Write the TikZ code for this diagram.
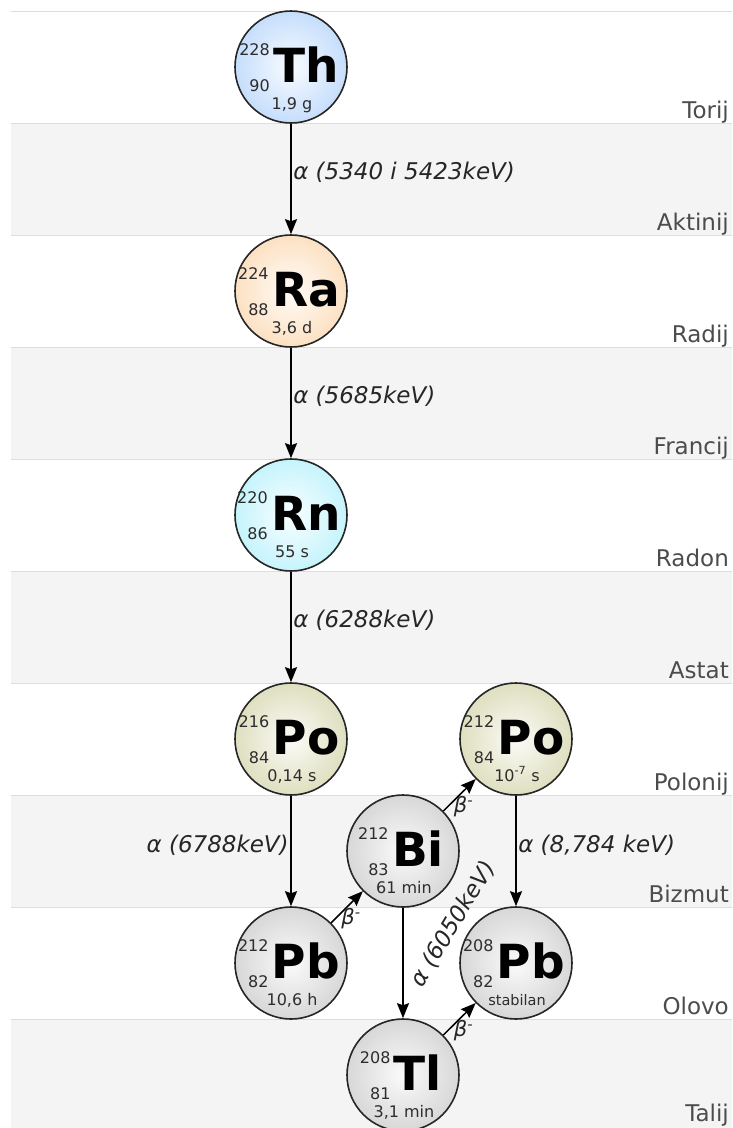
\documentclass[tikz,border=0pt]{standalone}
\usepackage{fontspec}
\setmainfont{DejaVu Sans}
\usetikzlibrary{arrows.meta}

\definecolor{rowgray}{RGB}{244,244,244}
\definecolor{rowline}{RGB}{221,221,221}
\definecolor{thblue}{RGB}{146,192,250}
\definecolor{rapeach}{RGB}{250,198,140}
\definecolor{rncyan}{RGB}{146,234,250}
\definecolor{poolive}{RGB}{194,194,136}
\definecolor{ballgray}{RGB}{180,180,180}
\definecolor{numgray}{RGB}{45,45,45}
\colorlet{balledge}{ballgray}

\pgfdeclareradialshading[balledge]{isoball}{\pgfpoint{0bp}{0bp}}{color(0bp)=(balledge!6!white); color(50bp)=(balledge)}

\tikzset{
  ball/.style={circle, draw=black!85, line width=1.6pt, minimum size=112pt, inner sep=0pt, shade, shading=isoball},
  ballcolor/.code={\colorlet{balledge}{#1}},
  elsym/.style={inner sep=0pt, font=\fontsize{47}{47}\selectfont\bfseries},
  nucnum/.style={inner sep=0pt, text=numgray, font=\fontsize{16}{16}\selectfont},
  decay/.style={-{Stealth[length=15pt,width=12pt,inset=2pt]}, line width=1.5pt},
  decaylabel/.style={inner sep=1.5pt, text=black!85, font=\fontsize{23}{23}\selectfont\itshape},
  betalabel/.style={inner sep=1pt, text=black!85, font=\fontsize{21}{21}\selectfont\itshape},
  rowlabel/.style={anchor=base east, inner sep=0pt, text=black!70, font=\fontsize{23}{23}\selectfont}
}

% name, centre, colour, symbol, A, Z, half-life
\newcommand{\isotope}[7]{%
  \node[ball, ballcolor=#3] (#1) at (#2) {};
  \node[elsym, anchor=base] (#1sym) at ([shift={(15,15)}]#1.center) {#4};
  \node[nucnum, anchor=base east] (#1a) at ([shift={(-3,-27)}]#1sym.base west) {#5};
  \node[nucnum, anchor=base east] (#1z) at ([shift={(-3,9)}]#1sym.base west) {#6};
  \node[nucnum, anchor=base] (#1t) at ([shift={(1,42)}]#1.center) {#7};
}

\begin{document}
\begin{tikzpicture}[x=1pt,y=-1pt]
  \useasboundingbox (0,0) rectangle (732,1128);

  % Rows
  \foreach \i in {1,3,5,7,9}
    \fill[rowgray] (11,11+112*\i) rectangle (732,123+112*\i);
  \foreach \i in {0,...,9}
    \draw[rowline, line width=1pt] (11,11+112*\i) -- (732,11+112*\i);
  \foreach \el [count=\i] in {Torij,Aktinij,Radij,Francij,Radon,Astat,Polonij,Bizmut,Olovo}
    \node[rowlabel] (row\i) at (729,6+112*\i) {\el};
  \node[rowlabel] (row10) at (729,1121) {Talij};

  % Nuclides
  \isotope{th}{291,67}{thblue}{Th}{228}{90}{1,9 g}
  \isotope{ra}{291,291}{rapeach}{Ra}{224}{88}{3,6 d}
  \isotope{rn}{291,515}{rncyan}{Rn}{220}{86}{55 s}
  \isotope{poa}{291,739}{poolive}{Po}{216}{84}{0,14 s}
  \isotope{pob}{516,739}{poolive}{Po}{212}{84}{10\textsuperscript{-7} s}
  \isotope{bi}{403,851}{ballgray}{Bi}{212}{83}{61 min}
  \isotope{pba}{291,963}{ballgray}{Pb}{212}{82}{10,6 h}
  \isotope{pbb}{516,963}{ballgray}{Pb}{208}{82}{\fontsize{14.5}{15}\selectfont stabilan}
  \isotope{tl}{403,1075}{ballgray}{Tl}{208}{81}{3,1 min}

  % Alpha decays
  \draw[decay] (th) -- node[decaylabel, right, yshift=7pt] (lth) {α (5340 i 5423keV)} (ra);
  \draw[decay] (ra) -- node[decaylabel, right, yshift=7pt] (lra) {α (5685keV)} (rn);
  \draw[decay] (rn) -- node[decaylabel, right, yshift=7pt] (lrn) {α (6288keV)} (poa);
  \draw[decay] (poa) -- node[decaylabel, left, yshift=6pt] (lpoa) {α (6788keV)} (pba);
  \draw[decay] (pob) -- node[decaylabel, right, yshift=6pt] (lpob) {α (8,784 keV)} (pbb);
  \draw[decay] (bi) -- (tl);
  \node[decaylabel, rotate=59] (lbi) at (453,924) {α (6050keV)};

  % Beta decays
  \draw[decay] (pba) -- node[betalabel, below, xshift=4pt] (lpba) {β\textsuperscript{-}} (bi);
  \draw[decay] (bi) -- node[betalabel, below, xshift=4pt] (lbib) {β\textsuperscript{-}} (pob);
  \draw[decay] (tl) -- node[betalabel, below, xshift=4pt] (ltl) {β\textsuperscript{-}} (pbb);
\end{tikzpicture}
\end{document}
